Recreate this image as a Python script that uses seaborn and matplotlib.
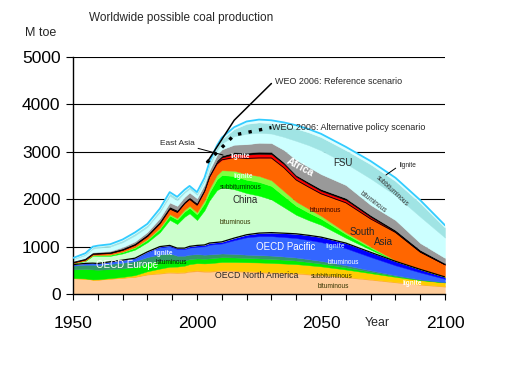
import numpy as np
import matplotlib
matplotlib.use("Agg")
import matplotlib.pyplot as plt
import seaborn as sns

# years sampled from the chart (history jagged, projection smooth)
years = [1950, 1955, 1958, 1960, 1965, 1970, 1975, 1980, 1985, 1989, 1992, 1995, 1997, 2000, 2003,
         2005, 2008, 2010, 2015, 2020, 2025, 2030, 2035, 2040, 2045, 2050, 2060, 2070, 2080, 2090, 2100]

# layer thickness in Mtoe, bottom to top
na_bit = [330, 320, 300, 300, 320, 340, 360, 410, 430, 450, 440, 450, 470, 480, 470,
          470, 480, 490, 480, 465, 455, 445, 435, 425, 410, 395, 350, 300, 245, 195, 155]
na_lig = [3, 3, 3, 3, 5, 5, 8, 10, 15, 15, 18, 18, 20, 20, 20,
          20, 20, 20, 20, 20, 20, 20, 20, 20, 19, 18, 16, 14, 12, 12, 12]
na_sub = [5, 5, 5, 8, 10, 15, 30, 60, 90, 110, 120, 130, 140, 150, 155,
          160, 165, 165, 175, 185, 190, 190, 188, 185, 178, 170, 150, 125, 105, 85, 75]
eu_bit = [180, 200, 210, 200, 190, 180, 170, 170, 165, 150, 120, 110, 105, 100, 100,
          100, 100, 100, 95, 90, 85, 85, 80, 75, 68, 60, 45, 30, 18, 8, 4]
eu_lig = [80, 90, 100, 100, 110, 120, 125, 130, 135, 135, 110, 100, 95, 90, 85,
          85, 80, 80, 75, 70, 70, 70, 68, 65, 60, 55, 45, 30, 18, 8, 4]
pa_bit = [20, 25, 30, 30, 40, 50, 55, 100, 150, 150, 140, 140, 150, 160, 175,
          205, 210, 210, 290, 365, 400, 410, 410, 410, 405, 397, 359, 281, 207, 147, 70]
pa_lig = [2, 3, 3, 3, 5, 5, 8, 10, 15, 15, 20, 20, 25, 25, 30,
          35, 35, 35, 45, 55, 65, 75, 82, 90, 98, 105, 110, 100, 85, 65, 40]
cn_bit = [23, 51, 157, 161, 124, 140, 180, 202, 302, 540, 508, 663, 697, 535, 730,
          900, 1100, 1150, 1030, 880, 790, 700, 550, 400, 320, 260, 110, 55, 8, 3, 1]
cn_sub = [5, 8, 10, 15, 20, 30, 40, 50, 70, 90, 95, 110, 115, 120, 150,
          170, 230, 260, 280, 280, 290, 285, 235, 190, 160, 130, 80, 40, 6, 3, 1]
cn_lig = [2, 3, 4, 5, 8, 10, 15, 20, 25, 30, 33, 40, 42, 45, 60,
          75, 90, 100, 110, 120, 125, 120, 105, 90, 80, 60, 35, 25, 4, 1, 1]
sa_bit = [15, 20, 22, 25, 30, 35, 45, 60, 90, 110, 120, 130, 140, 150, 190,
          245, 230, 220, 280, 330, 380, 470, 492, 455, 459, 465, 625, 585, 592, 358, 254]
sa_lig = [0, 0, 0, 0, 0, 0, 2, 3, 5, 10, 10, 12, 13, 15, 18,
          20, 40, 50, 70, 80, 85, 80, 75, 70, 65, 60, 60, 40, 10, 5, 3]
east_asia = [15, 20, 22, 25, 28, 30, 32, 35, 38, 40, 38, 32, 30, 30, 32,
             35, 40, 40, 40, 40, 45, 45, 40, 35, 38, 40, 40, 40, 40, 40, 30]
africa = [10, 12, 14, 15, 20, 30, 40, 50, 70, 85, 88, 95, 98, 100, 95,
          90, 110, 130, 160, 180, 190, 190, 260, 320, 320, 315, 275, 215, 210, 145, 110]
fsu_bit = [40, 63, 76, 85, 90, 102, 125, 105, 128, 140, 118, 90, 82, 72, 75,
           90, 100, 130, 180, 220, 210, 200, 275, 400, 460, 500, 455, 555, 523, 556, 430]
fsu_sub = [20, 25, 30, 30, 35, 40, 45, 45, 50, 55, 50, 40, 40, 40, 45,
           60, 70, 90, 150, 210, 220, 220, 240, 260, 270, 280, 280, 300, 300, 290, 210]
fsu_lig = [10, 12, 14, 15, 15, 18, 20, 20, 22, 25, 22, 20, 18, 18, 20,
           20, 30, 30, 40, 50, 60, 60, 65, 70, 70, 70, 70, 70, 70, 60, 50]

# WEO 2006 scenarios
weo_years = [2004, 2015, 2030]
weo_ref = [2773, 3666, 4441]
weo_alt = [2773, 3354, 3512]

layers = [na_bit, na_lig, na_sub, eu_bit, eu_lig, pa_bit, pa_lig,
          cn_bit, cn_sub, cn_lig, sa_bit, sa_lig, east_asia, africa,
          fsu_bit, fsu_sub, fsu_lig]
colors = ['#FFCC99', '#FFA833', '#FFCC00', '#00EE00', '#339966', '#3366FF', '#0000FF',
          '#CCFFCC', '#00FF00', '#80FF40', '#FF6600', '#FF0000', '#000000', '#999999',
          '#CCFFFF', '#A0E4E4', '#DDFFFF']

sns.set_theme(style="ticks")
plt.rcParams['font.family'] = ['Liberation Sans', 'DejaVu Sans']

fig = plt.figure(figsize=(5.08, 3.78), dpi=100)
ax = fig.add_axes([73 / 508, 84 / 378, 372 / 508, 237 / 378])

# stacked areas
cum = np.cumsum(np.array(layers, dtype=float), axis=0)
base = np.zeros(len(years))
for top, col in zip(cum, colors):
    ax.fill_between(years, base, top, facecolor=col, edgecolor=col, lw=0.3, zorder=2)
    base = top

# outlines
ax.plot(years, cum[6], color='black', lw=0.9, zorder=3)
ax.plot(years, cum[10], color='black', lw=0.6, zorder=3)
ax.plot(years, cum[-1], color='#33CCFF', lw=1.3, zorder=3)

# WEO scenario lines
sns.lineplot(x=weo_years, y=weo_ref, color='black', lw=1.1, ax=ax, zorder=4)
sns.lineplot(x=weo_years, y=weo_alt, color='black', lw=2.4, linestyle=(0, (1, 2.2)), ax=ax, zorder=4)

ax.set_xlim(1950, 2100)
ax.set_ylim(0, 5000)
ax.set_axisbelow(True)
ax.yaxis.grid(True, color='black', lw=0.8)
ax.xaxis.grid(False)
sns.despine(ax=ax)
for s in ['left', 'bottom']:
    ax.spines[s].set_linewidth(1.0)
    ax.spines[s].set_color('black')

xt = list(range(1950, 2101, 10))
ax.set_xticks(xt)
ax.set_xticklabels([str(t) if t % 50 == 0 else '' for t in xt])
ax.set_yticks(range(0, 5001, 1000))
ax.tick_params(axis='x', length=4.5, width=0.8, pad=11, labelsize=12.5, colors='black')
ax.tick_params(axis='y', length=5, width=0.8, pad=4, labelsize=12.5, colors='black')

fig.text(89 / 508, 0.952, 'Worldwide possible coal production', fontsize=8.5, va='center', ha='left')
fig.text(25 / 508, 0.912, 'M toe', fontsize=9, va='center', ha='left')
fig.text(365 / 508, 0.145, 'Year', fontsize=8.9, va='center', ha='left')

# scenario labels
ax.text(2031.5, 4473, 'WEO 2006: Reference scenario', fontsize=6.5, va='center')
ax.text(2030.4, 3523, 'WEO 2006: Alternative policy scenario', fontsize=6.5, va='center')
ax.annotate('East Asia', xy=(2010.5, 2932), xytext=(1985.1, 3165), fontsize=6,
            va='center', ha='left',
            arrowprops=dict(arrowstyle='-', color='black', lw=0.7, shrinkA=0, shrinkB=0,
                            relpos=(0.85, 0.2)))
ax.annotate('lignite', xy=(2076.2, 2511), xytext=(2081.9, 2720), fontsize=4.7,
            va='center', ha='left',
            arrowprops=dict(arrowstyle='-', color='black', lw=0.7, shrinkA=1, shrinkB=0,
                            relpos=(0, 0.5)))

small = 4.7
mid = 6.3
# in-area labels
ax.text(2017.3, 2905, 'lignite', fontsize=small, color='white', ha='center', va='center', weight='bold')
ax.text(2018.5, 2470, 'lignite', fontsize=small, color='#E8FFE8', ha='center', va='center', weight='bold')
ax.text(2017.7, 2250, 'subbituminous', fontsize=small, color='#003300', ha='center', va='center')
ax.text(2019.4, 1983, 'China', fontsize=mid + 0.7, ha='center', va='center')
ax.text(2015.3, 1500, 'bituminous', fontsize=small, color='#333300', ha='center', va='center')
ax.text(2041.5, 2680, 'Africa', fontsize=7.5, color='white', weight='bold', ha='center', va='center', rotation=-28)
ax.text(2058.9, 2764, 'FSU', fontsize=mid + 0.7, ha='center', va='center')
ax.text(2078.6, 2173, 'subbituminous', fontsize=small, color='#333333', ha='center', va='center', rotation=-43)
ax.text(2071.0, 1941, 'bituminous', fontsize=small, color='#333333', ha='center', va='center', rotation=-37)
ax.text(2051.6, 1772, 'bituminous', fontsize=small, color='#330000', ha='center', va='center')
ax.text(2066.5, 1308, 'South', fontsize=mid + 0.7, ha='center', va='center')
ax.text(2075.0, 1097, 'Asia', fontsize=mid + 0.7, ha='center', va='center')
ax.text(2035.9, 992, 'OECD Pacific', fontsize=mid + 0.7, color='white', ha='center', va='center')
ax.text(2055.6, 992, 'lignite', fontsize=small, color='#AACCFF', ha='center', va='center', weight='bold')
ax.text(2058.9, 675, 'bituminous', fontsize=small, color='white', ha='center', va='center')
ax.text(2024.2, 380, 'OECD North America', fontsize=mid, ha='center', va='center')
ax.text(2054.4, 359, 'subbituminous', fontsize=small, color='#333300', ha='center', va='center')
ax.text(2054.8, 148, 'bituminous', fontsize=small, color='#333300', ha='center', va='center')
ax.text(2086.7, 232, 'lignite', fontsize=small, color='white', ha='center', va='center', weight='bold')
ax.text(1971.8, 612, 'OECD Europe', fontsize=mid + 0.7, color='white', ha='center', va='center')
ax.text(1986.3, 844, 'lignite', fontsize=small, color='#DDEEFF', ha='center', va='center', weight='bold')
ax.text(1989.5, 675, 'bituminous', fontsize=small, color='#002200', ha='center', va='center')

fig.savefig('out.png', dpi=100)
